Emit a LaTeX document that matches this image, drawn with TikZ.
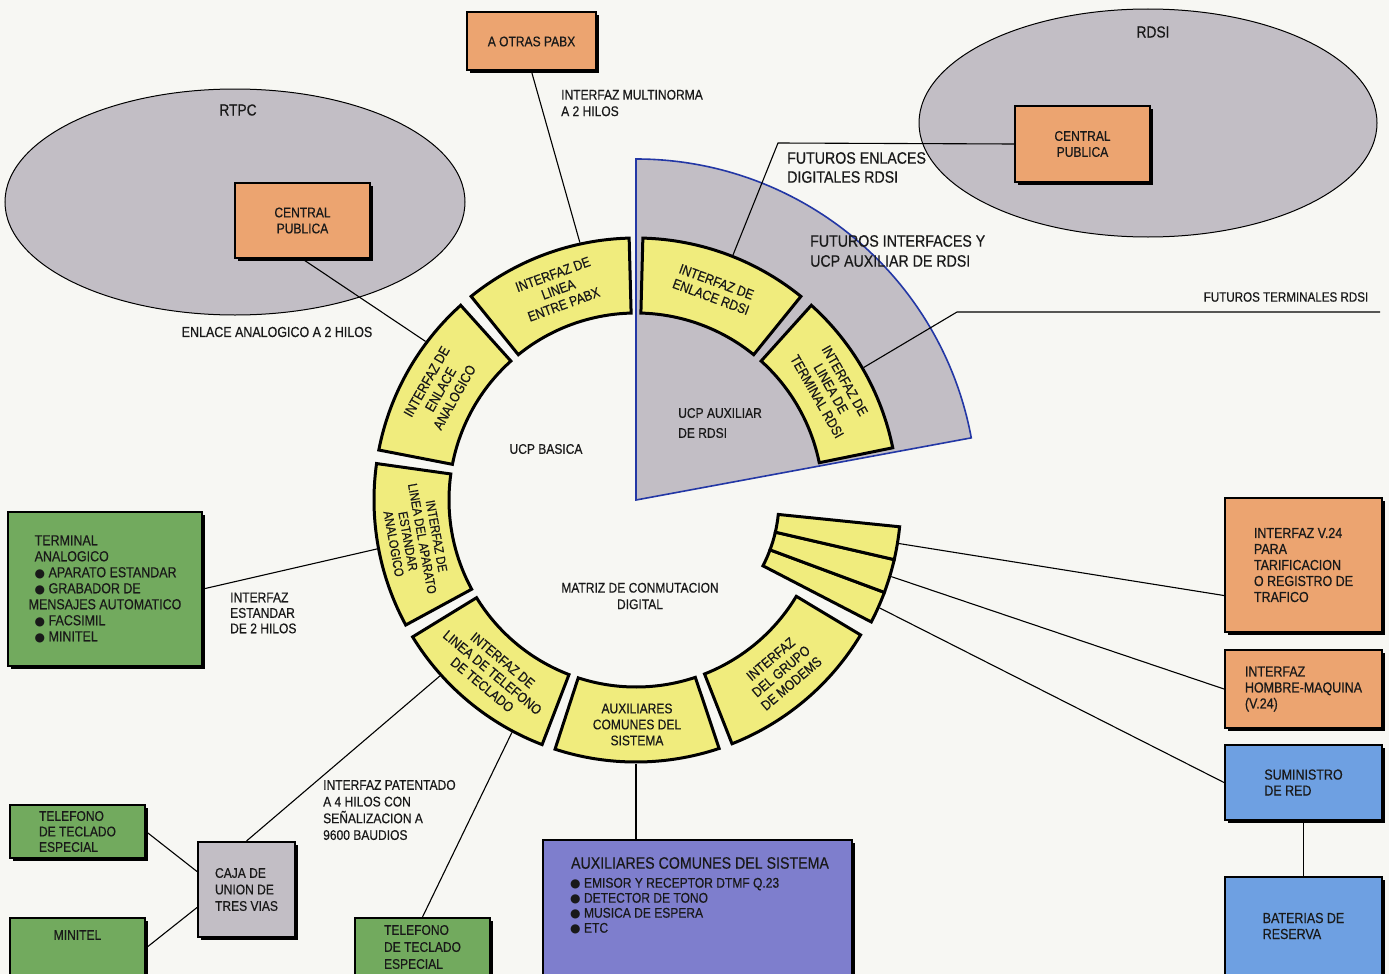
\documentclass[tikz,border=0pt]{standalone}
\usepackage{fontspec}
\setmainfont{Liberation Sans}[FakeStretch=0.86, FakeBold=0.5]
\newfontfamily\dejavu{DejaVu Sans}
\usetikzlibrary{shapes.geometric,shadows}
\definecolor{bgc}{RGB}{247,247,243}
\definecolor{grayfill}{RGB}{194,190,197}
\definecolor{yel}{RGB}{240,236,125}
\definecolor{orng}{RGB}{236,164,112}
\definecolor{grn}{RGB}{114,170,94}
\definecolor{purp}{RGB}{126,126,205}
\definecolor{blu}{RGB}{110,160,226}
\definecolor{bluln}{RGB}{35,55,165}
\definecolor{txt}{RGB}{25,25,25}
\newcommand\fsz[2]{\fontsize{#1}{#2}\selectfont}
\newcommand\bul{{\dejavu\fontsize{12}{12}\selectfont ●}}
\newcommand\ringseg[4]{\draw[segstyle] (#1:#3) -- (#1:#4) arc[start angle=#1, end angle=#2, radius=#4] -- (#2:#3) arc[start angle=#2, end angle=#1, radius=#3] -- cycle;}
\begin{document}
\begin{tikzpicture}[x=1pt,y=-1pt,
  conn/.style={draw=black, line width=1.1pt},
  segstyle/.style={draw=black, line width=3pt, fill=yel},
  segtext/.style={align=center, inner sep=0pt, text=txt, font=\fsz{14}{16}},
  boxbase/.style={draw=black, line width=2pt, inner sep=0pt, text=txt, font=\fsz{14}{16}, drop shadow={shadow xshift=2.5pt, shadow yshift=-2.5pt, fill=black, opacity=1}},
  obox/.style={boxbase, fill=orng},
  gbox/.style={boxbase, fill=grn},
  bbox/.style={boxbase, fill=blu},
  pbox/.style={boxbase, fill=purp},
  cbox/.style={boxbase, fill=grayfill},
  ell/.style={ellipse, draw=black, line width=1pt, fill=grayfill, inner sep=0pt},
  lbl/.style={inner sep=0pt, align=left, text=txt, font=\fsz{14}{16.5}},
]
\fill[bgc] (0,0) rectangle (1389,974);
\useasboundingbox (0,0) rectangle (1389,974);

% networks
\node[ell, minimum width=460, minimum height=226] (rtpc) at (235,202) {};
\node[ell, minimum width=458, minimum height=228] (rdsi) at (1148,123) {};
\node[lbl, font=\fsz{16}{18}] (rtpcl) at (238,110) {RTPC};
\node[lbl, font=\fsz{16}{18}] (rdsil) at (1153,32) {RDSI};

% ring
\begin{scope}[shift={(636,500)}, y=1pt]
  \filldraw[fill=grayfill, draw=bluln, line width=1.6pt] (0,0) -- (90:341) arc[start angle=90, end angle=10.5, radius=341] -- cycle;
  \ringseg{91.5}{129}{187}{262}
  \ringseg{132}{169}{187}{262}
  \ringseg{172}{208.5}{187}{262}
  \ringseg{211.5}{249}{187}{262}
  \ringseg{252}{288.5}{187}{262}
  \ringseg{291.5}{329}{187}{262}
  \ringseg{51}{88.5}{187}{262}
  \ringseg{11.5}{48}{187}{262}
  \ringseg{332.6}{339.6}{143}{265}
  \ringseg{339.6}{347}{143}{265}
  \ringseg{347}{354.2}{143}{265}
  \node[segtext, rotate=20] (s1t) at (110.25:224.5) {INTERFAZ DE\\LINEA\\ENTRE PABX};
  \node[segtext, rotate=60.5] (s2t) at (150.5:224.5) {INTERFAZ DE\\ENLACE\\ANALOGICO};
  \node[segtext, rotate=-79.75, font=\fsz{13}{14.5}] (s3t) at (190.25:224.5) {INTERFAZ DE\\LINEA DEL APARATO\\ESTANDAR\\ANALOGICO};
  \node[segtext, rotate=-39.75] (s4t) at (230.25:224.5) {INTERFAZ DE\\LINEA DE TELEFONO\\DE TECLADO};
  \node[segtext] (s5t) at (270.25:224.5) {AUXILIARES\\COMUNES DEL\\SISTEMA};
  \node[segtext, rotate=40.25] (s6t) at (310.25:224.5) {INTERFAZ\\DEL GRUPO\\DE MODEMS};
  \node[segtext, rotate=-20.25] (s8t) at (69.75:224.5) {INTERFAZ DE\\ENLACE RDSI};
  \node[segtext, rotate=-60.25] (s9t) at (29.75:224.5) {INTERFAZ DE\\LINEA DE\\TERMINAL RDSI};
  \coordinate (c1) at (102.3:263.5);
  \coordinate (c2) at (143:263.5);
  \coordinate (c3) at (68.4:263.5);
  \coordinate (c4) at (30.2:263.5);
  \coordinate (c5) at (190.7:263.5);
  \coordinate (c6) at (221.9:263.5);
  \coordinate (c7) at (241.9:263.5);
  \coordinate (c8) at (270:263.5);
  \coordinate (w1) at (350.6:266.5);
  \coordinate (w2) at (343.3:266.5);
  \coordinate (w3) at (336.1:266.5);
\end{scope}

% free labels
\node[lbl, anchor=west] (multi) at (561,103) {INTERFAZ MULTINORMA\\A 2 HILOS};
\node[lbl, font=\fsz{14.5}{17}] (enl) at (277,332) {ENLACE ANALOGICO A 2 HILOS};
\node[lbl, anchor=west, font=\fsz{16.5}{19}] (fed) at (787,167.5) {FUTUROS ENLACES\\DIGITALES RDSI};
\node[lbl, anchor=west, font=\fsz{16.5}{20}] (fiu) at (810,251) {FUTUROS INTERFACES Y\\UCP AUXILIAR DE RDSI};
\node[lbl, font=\fsz{13.5}{16}] (ftr) at (1286,297) {FUTUROS TERMINALES RDSI};
\node[lbl] (ucpb) at (546,449) {UCP BASICA};
\node[lbl, anchor=west, font=\fsz{14}{20}] (ucpa) at (678,423) {UCP AUXILIAR\\DE RDSI};
\node[lbl, align=center] (matriz) at (640,596) {MATRIZ DE CONMUTACION\\DIGITAL};
\node[lbl, anchor=west, font=\fsz{14}{15.5}] (ie2) at (230,613) {INTERFAZ\\ESTANDAR\\DE 2 HILOS};
\node[lbl, anchor=west, font=\fsz{14}{16.7}] (ip4) at (323,810) {INTERFAZ PATENTADO\\A 4 HILOS CON\\SEÑALIZACION A\\9600 BAUDIOS};

% boxes
\node[obox, minimum width=129, minimum height=58] (aotras) at (531.5,41.5) {A OTRAS PABX};
\node[obox, minimum width=135, minimum height=75, align=center] (cp1) at (302.5,220.5) {CENTRAL\\PUBLICA};
\node[obox, minimum width=135, minimum height=76, align=center] (cp2) at (1082.5,144) {CENTRAL\\PUBLICA};
\node[gbox, minimum width=194, minimum height=154, align=left, font=\fsz{14.5}{16}] (term) at (105,589) {\hspace*{6pt}TERMINAL\\\hspace*{6pt}ANALOGICO\\\hspace*{6pt}\bul\ APARATO ESTANDAR\\\hspace*{6pt}\bul\ GRABADOR DE\\MENSAJES AUTOMATICO\\\hspace*{6pt}\bul\ FACSIMIL\\\hspace*{6pt}\bul\ MINITEL};
\node[gbox, minimum width=135, minimum height=53, align=left, font=\fsz{14}{15.5}] (tel1) at (77.5,831.5) {TELEFONO\\DE TECLADO\\ESPECIAL};
\node[gbox, minimum width=135, minimum height=60] (minb) at (77.5,948) {};
\node[lbl, font=\fsz{14}{16}] (mint) at (77.5,935) {MINITEL};
\node[cbox, minimum width=97, minimum height=95, align=left, font=\fsz{14}{16.5}] (caja) at (246.5,889.5) {CAJA DE\\UNION DE\\TRES VIAS};
\node[gbox, minimum width=135, minimum height=58, align=left, font=\fsz{14}{17}] (tel2) at (422.5,947) {TELEFONO\\DE TECLADO\\ESPECIAL};
\node[pbox, minimum width=309, minimum height=140] (aux) at (697.5,910) {};
\node[lbl, font=\fsz{16.5}{19}] (auxh) at (700,863) {AUXILIARES COMUNES DEL SISTEMA};
\node[lbl, anchor=west, font=\fsz{14}{15}] (auxi) at (570,906) {\bul\ EMISOR Y RECEPTOR DTMF Q.23\\\bul\ DETECTOR DE TONO\\\bul\ MUSICA DE ESPERA\\\bul\ ETC};
\node[obox, minimum width=157, minimum height=134, align=left, font=\fsz{14.5}{16}] (v24) at (1303.5,565) {INTERFAZ V.24\\PARA\\TARIFICACION\\O REGISTRO DE\\TRAFICO};
\node[obox, minimum width=157, minimum height=78, align=left, font=\fsz{14.5}{16}] (hm) at (1303.5,689) {INTERFAZ\\HOMBRE-MAQUINA\\(V.24)};
\node[bbox, minimum width=157, minimum height=75, align=left, font=\fsz{14.5}{16}] (sum) at (1303.5,782.5) {SUMINISTRO\\DE RED};
\node[bbox, minimum width=157, minimum height=98, align=left, font=\fsz{14.5}{16}] (bat) at (1303.5,926) {BATERIAS DE\\RESERVA};

% connectors
\coordinate (fe1) at (778,143);
\coordinate (ft1) at (957,312);
\coordinate (ft2) at (1380,312);
\draw[conn] (aotras.south) -- (c1);
\draw[conn] (cp1.south) -- (c2);
\draw[conn] (cp2.west) -- (fe1) -- (c3);
\draw[conn] (c4) -- (ft1) -- (ft2);
\draw[conn] (term.east) -- (c5);
\draw[conn] (caja.north) -- (c6);
\draw[conn] (tel2.north) -- (c7);
\draw[conn] (c8) -- (c8 |- aux.north);
\draw[conn] (w1) -- (v24.201);
\draw[conn] (w2) -- (hm.west);
\draw[conn] (w3) -- (sum.west);
\draw[conn] (sum.south) -- (bat.north);
\draw[conn] (tel1.east) -- (caja.160);
\draw[conn] (minb.east) -- (caja.200);
\end{tikzpicture}
\end{document}
